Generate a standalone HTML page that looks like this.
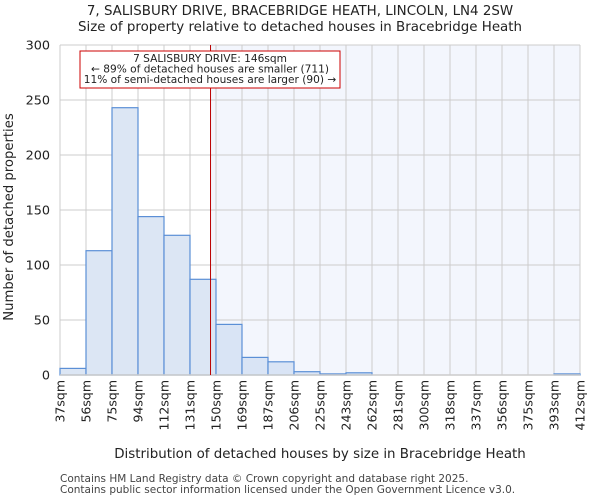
<!DOCTYPE html>
<html><head><meta charset="utf-8"><style>
body{margin:0;background:#fff;font-family:"DejaVu Sans","Liberation Sans",sans-serif;}
</style></head><body>
<svg id="c" width="600" height="500" xmlns="http://www.w3.org/2000/svg" font-family="DejaVu Sans, Liberation Sans, sans-serif">
<text x="300" y="15" font-size="13.4" text-anchor="middle" fill="#222">7, SALISBURY DRIVE, BRACEBRIDGE HEATH, LINCOLN, LN4 2SW</text>
<text x="300" y="31" font-size="13.4" text-anchor="middle" fill="#222">Size of property relative to detached houses in Bracebridge Heath</text>
<g id="plot"></g>
<text x="320" y="458" font-size="13.4" text-anchor="middle" fill="#222">Distribution of detached houses by size in Bracebridge Heath</text>
<text transform="translate(13,217) rotate(-90)" font-size="13.2" text-anchor="middle" fill="#222">Number of detached properties</text>
<text x="60" y="482" font-size="10.5" fill="#444">Contains HM Land Registry data © Crown copyright and database right 2025.</text>
<text x="60" y="493" font-size="10.5" fill="#444">Contains public sector information licensed under the Open Government Licence v3.0.</text>
</svg>
<script>
const binEdges=[37,56,75,94,112,131,150,169,187,206,225,243,262,281,300,318,337,356,375,393,412];
const tickLabels=["37sqm","56sqm","75sqm","94sqm","112sqm","131sqm","150sqm","169sqm","187sqm","206sqm","225sqm","243sqm","262sqm","281sqm","300sqm","318sqm","337sqm","356sqm","375sqm","393sqm","412sqm"];
const counts=[6,113,243,144,127,87,46,16,12,3,1,2,0,0,0,0,0,0,0,1];
const yTicks=[0,50,100,150,200,250,300];
const subjectSize=146;
const NS="http://www.w3.org/2000/svg";
const L=60,R=580,T=45,B=375,yMax=300;
const n=counts.length,bw=(R-L)/n;
function xIdx(i){return L+i*bw;}
function xVal(v){for(let i=0;i<binEdges.length-1;i++){if(v<=binEdges[i+1]){return xIdx(i)+(v-binEdges[i])/(binEdges[i+1]-binEdges[i])*bw;}}return R;}
function y(v){return B-v/yMax*(B-T);}
const g=document.getElementById('plot');
function mk(t,a,p){const e=document.createElementNS(NS,t);for(const k in a)e.setAttribute(k,a[k]);(p||g).appendChild(e);return e;}
const xs=xVal(subjectSize);
let sh=mk('rect',{x:xs,y:T,width:R-xs,height:B-T,fill:'#f3f6fd'});


for(let i=0;i<=n;i++){let l=mk('line',{x1:xIdx(i),x2:xIdx(i),y1:T,y2:B,stroke:'#ccc','stroke-width':1});

}
yTicks.forEach(t=>{let l=mk('line',{x1:L,x2:R,y1:y(t),y2:y(t),stroke:'#ccc','stroke-width':1});


let tx=mk('text',{x:L-10,y:y(t)+4.5,'font-size':12.8,'text-anchor':'end',fill:'#222'});tx.textContent=t;

});
counts.forEach((c,i)=>{if(c<=0)return;let r=mk('rect',{x:xIdx(i),y:y(c),width:bw,height:B-y(c),fill:xIdx(i)>=xs?'#d9e4f5':'#dce6f4',stroke:'#5b8fd6','stroke-width':1.2});

});
tickLabels.forEach((t,i)=>{let tx=mk('text',{transform:`translate(${xIdx(i)+4.5},${B+5}) rotate(-90)`,'font-size':12.5,'text-anchor':'end',fill:'#222'});tx.textContent=t;

});
let ax=mk('line',{x1:L,x2:R,y1:B,y2:B,stroke:'#ccc','stroke-width':1.5});


let ml=mk('line',{x1:xs,x2:xs,y1:T,y2:B,stroke:'#b00','stroke-width':1});


let ab=mk('rect',{x:80,y:51,width:260,height:37,fill:'#fff',stroke:'#c00','stroke-width':1});


["7 SALISBURY DRIVE: 146sqm","← 89% of detached houses are smaller (711)","11% of semi-detached houses are larger (90) →"].forEach((s,i)=>{let tx=mk('text',{x:210,y:62+i*10.5,'font-size':10.6,'text-anchor':'middle',fill:'#222'});tx.textContent=s;

});
</script>
</body></html>
